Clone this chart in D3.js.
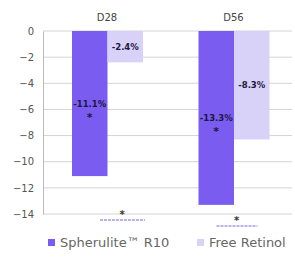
<!DOCTYPE html>
<html>
<head>
<meta charset="utf-8">
<script src="https://cdn.jsdelivr.net/npm/d3@7"></script>
<style>
  body { margin: 0; background: #fff; }
  text { font-family: "DejaVu Sans", sans-serif; }
</style>
</head>
<body>
<svg width="295" height="257"></svg>
<script>
// chart data
const categories = ["D28", "D56"];
const series = ["Spherulite\u2122 R10", "Free Retinol"];
const spherulite = [-11.1, -13.3];
const freeRetinol = [-2.4, -8.3];
const yTicks = [0, -2, -4, -6, -8, -10, -12, -14];

const colors = ["#7b5cf0", "#d9d2f8"];

let svg = d3.select("svg"),
    width = +svg.attr("width"),
    height = +svg.attr("height");

let x = d3.scaleBand().domain(categories).range([44, 297]);
let xSub = d3.scaleBand().domain(series).range([28, 99]);
let y = d3.scaleLinear().domain([-14, 0]).range([214, 31]);

// gridlines
svg.append("g")
    .selectAll("line")
    .data(yTicks)
    .enter().append("line")
    .attr("x1", 43).attr("x2", 292)
    .attr("y1", d => y(d)).attr("y2", d => y(d))
    .attr("stroke", "#d4d4d4")
    .attr("stroke-width", 1);

// y axis
let yAxis = svg.append("g")
    .attr("transform", "translate(43,0)")
    .call(d3.axisLeft(y).tickValues(yTicks).tickSize(0).tickPadding(9).tickFormat(d3.format("d")));
yAxis.select(".domain").attr("stroke", "#bbb");
yAxis.selectAll("text")
    .attr("font-size", 10)
    .attr("fill", "#555")
    .style("font-family", "DejaVu Sans, sans-serif");

// bars
let rows = categories.map((c, i) => ({ cat: c, values: [spherulite[i], freeRetinol[i]] }));

let groups = svg.append("g")
    .selectAll("g")
    .data(rows)
    .enter().append("g")
    .attr("transform", d => "translate(" + x(d.cat) + ",0)");

groups.selectAll("rect")
    .data(d => d.values.map((v, j) => ({ s: series[j], v: v, j: j })))
    .enter().append("rect")
    .attr("x", d => xSub(d.s))
    .attr("width", xSub.bandwidth())
    .attr("y", y(0))
    .attr("height", d => y(d.v) - y(0))
    .attr("fill", d => colors[d.j]);

// value labels in middle of bars
groups.selectAll("text.val")
    .data(d => d.values.map((v, j) => ({ s: series[j], v: v, j: j })))
    .enter().append("text")
    .attr("class", "val")
    .attr("x", d => xSub(d.s) + xSub.bandwidth() / 2)
    .attr("y", d => y(d.v / 2) + 3)
    .attr("text-anchor", "middle")
    .attr("font-size", 8.5)
    .attr("font-weight", "bold")
    .attr("fill", "#1c1840")
    .text(d => d.v.toFixed(1) + "%");

// significance star under spherulite labels
groups.append("text")
    .attr("x", xSub(series[0]) + xSub.bandwidth() / 2)
    .attr("y", d => y(d.values[0] / 2) + 17)
    .attr("text-anchor", "middle")
    .attr("font-size", 11)
    .attr("font-weight", "bold")
    .attr("fill", "#1c1840")
    .text("*");

// bottom brackets with stars (offsets inside each band)
let bracketY = [220, 226];
let bracketX1 = [56, 46];
let bracketX2 = [101, 87];
let starX = [78, 66];

groups.append("line")
    .attr("x1", (d, i) => bracketX1[i])
    .attr("x2", (d, i) => bracketX2[i])
    .attr("y1", (d, i) => bracketY[i])
    .attr("y2", (d, i) => bracketY[i])
    .attr("stroke", "#a899ec")
    .attr("stroke-width", 1.5)
    .attr("stroke-dasharray", "3,1");

groups.append("text")
    .attr("x", (d, i) => starX[i])
    .attr("y", (d, i) => bracketY[i] - 2)
    .attr("text-anchor", "middle")
    .attr("font-size", 10)
    .attr("font-weight", "bold")
    .attr("fill", "#333")
    .text("*");

// category labels on top
svg.append("g")
    .selectAll("text")
    .data(categories)
    .enter().append("text")
    .attr("x", d => x(d) + 63)
    .attr("y", 21)
    .attr("text-anchor", "middle")
    .attr("font-size", 10)
    .attr("fill", "#444")
    .text(d => d);

// legend
let legendX = [48, 197];
let legend = svg.append("g")
    .selectAll("g")
    .data(series)
    .enter().append("g")
    .attr("transform", (d, i) => "translate(" + legendX[i] + ",237)");

legend.append("rect")
    .attr("width", 7).attr("height", 7)
    .attr("y", 2)
    .attr("fill", (d, i) => colors[i]);

legend.append("text")
    .attr("x", 12)
    .attr("y", 10)
    .attr("font-size", 13)
    .attr("fill", "#666")
    .text(d => d);
</script>
</body>
</html>
